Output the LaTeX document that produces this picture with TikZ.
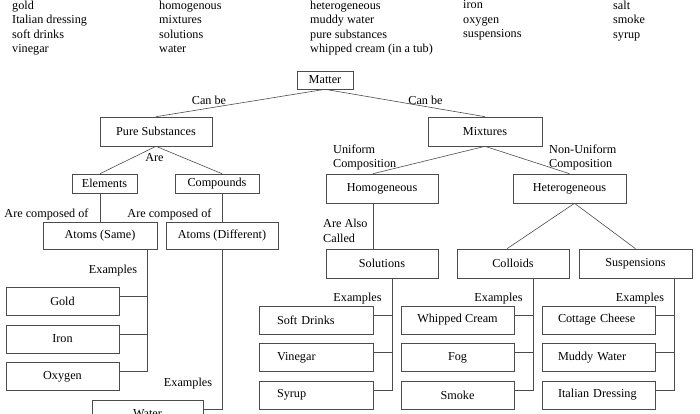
\documentclass[tikz,border=0pt]{standalone}
\usepackage{fontspec}
\setmainfont{Liberation Serif}
\usetikzlibrary{positioning}
\begin{document}
\begin{tikzpicture}[x=1pt,y=-1pt,
  font=\fontsize{12.2}{14.5}\selectfont,
  % concept boxes: plain rectangles, text centred
  box/.style={draw=black!70, line width=0.6pt, inner sep=0pt, align=center,
              minimum width=112, minimum height=29},
  exbox/.style={box, minimum width=113, minimum height=28},
  % example boxes whose text sits to the left
  solbox/.style={exbox, text width=78, inner xsep=18pt, align=left},
  suspbox/.style={exbox, text width=81, inner xsep=16pt, align=left},
  % link words and the word bank
  lbl/.style={inner sep=0pt, anchor=base},
  note/.style={inner sep=0pt, anchor=north west, align=left},
  link/.style={draw=black!70, line width=0.6pt},
  ]
  \useasboundingbox (0,0) rectangle (700,414);
  % ---- word bank ------------------------------------------------------------
  \node[note] (bank1) at (12,0.4)  {gold\\Italian dressing\\soft drinks\\vinegar};
  \node[note] (bank2) at (159,0.4) {homogenous\\mixtures\\solutions\\water};
  \node[note] (bank3) at (310,0.4) {heterogeneous\\muddy water\\pure substances\\whipped cream (in a tub)};
  \node[note] (bank4) at (463,0.4) {iron\\oxygen\\suspensions};
  \node[note] (bank5) at (613,0.4) {salt\\smoke\\syrup};
  % ---- concept boxes --------------------------------------------------------
  \node[box, minimum width=56, minimum height=18] (matter) at (325,80) {Matter};
  \node[box] (pure) at (156,131.5) {Pure Substances};
  \node[box, minimum width=114] (mix) at (485,131.5) {Mixtures};
  \node[box, minimum width=65, minimum height=19] (elem) at (104.5,183.5) {Elements};
  \node[box, minimum width=84, minimum height=19] (comp) at (217,183.5) {Compounds};
  \node[box, minimum width=114, minimum height=27] (same) at (100,235.5) {Atoms (Same)};
  \node[box, minimum height=27] (diff) at (222,235.5) {Atoms (Different)};
  \node[box] (homo) at (382,188.5) {Homogeneous};
  \node[box, minimum width=113] (hetero) at (569.5,188.5) {Heterogeneous};
  \node[box] (sol)  at (382,263.5) {Solutions};
  \node[box] (coll) at (513,263.5) {Colloids};
  \node[box, minimum width=113] (susp) at (635.5,263.5) {Suspensions};
  % ---- examples -------------------------------------------------------------
  \node[exbox] (gold)  at (62.5,301)   {Gold};
  \node[exbox] (iron)  at (62.5,339)   {Iron};
  \node[exbox] (oxy)   at (62.5,376.5) {Oxygen};
  \node[exbox, minimum width=111] (water) at (147.5,414) {Water};
  \node[solbox] (soft)  at (316,320)   {Soft Drinks};
  \node[solbox] (vine)  at (316,357.5) {Vinegar};
  \node[solbox] (syrup) at (316,395)   {Syrup};
  \node[exbox] (whip)  at (457.5,320)   {Whipped Cream};
  \node[exbox] (fog)   at (457.5,357.5) {Fog};
  \node[exbox] (smoke) at (457.5,395)   {Smoke};
  \node[suspbox] (cottage) at (598.5,320)   {Cottage Cheese};
  \node[suspbox] (muddy)   at (598.5,357.5) {Muddy Water};
  \node[suspbox] (italian) at (598.5,395)   {Italian Dressing};
  % ---- links between concepts -----------------------------------------------
  \draw[link] (matter.south) -- (pure.north);
  \draw[link] (matter.south) -- (mix.north);
  \draw[link] (pure.south) -- (same.north |- elem.north);
  \draw[link] (pure.south) -- (diff.north |- comp.north);
  \draw[link] (same.north |- elem.south) -- (same.north);
  \draw[link] (diff.north |- comp.south) -- (diff.north);
  \draw[link] (mix.south) -- ([xshift=-9pt]homo.north);
  \draw[link] (mix.south) -- (hetero.north);
  \draw[link] ([xshift=-9pt]homo.south) -- ([xshift=-9pt]sol.north);
  \draw[link] ([xshift=5pt]hetero.south) -- ([xshift=-6pt]coll.north);
  \draw[link] ([xshift=5pt]hetero.south) -- (susp.north);
  % ---- example branches (each runs up its trunk) ----------------------------
  \draw[link] ([yshift=5pt]gold.east) -| ([xshift=-10pt]same.south east);
  \draw[link] ([yshift=5pt]iron.east) -| ([xshift=-10pt]same.south east);
  \draw[link] ([yshift=5pt]oxy.east)  -| ([xshift=-10pt]same.south east);
  \draw[link] ([yshift=5pt]water.east) -| (diff.south);
  \draw[link] ([yshift=5pt]soft.east)  -| ([xshift=10pt]sol.south);
  \draw[link] ([yshift=5pt]vine.east)  -| ([xshift=10pt]sol.south);
  \draw[link] ([yshift=5pt]syrup.east) -| ([xshift=10pt]sol.south);
  \draw[link] ([yshift=5pt]whip.east)  -| ([xshift=20pt]coll.south);
  \draw[link] ([yshift=5pt]fog.east)   -| ([xshift=20pt]coll.south);
  \draw[link] ([yshift=5pt]smoke.east) -| ([xshift=20pt]coll.south);
  \draw[link] ([yshift=5pt]cottage.east) -| ([xshift=-18pt]susp.south east);
  \draw[link] ([yshift=5pt]muddy.east)   -| ([xshift=-18pt]susp.south east);
  \draw[link] ([yshift=5pt]italian.east) -| ([xshift=-18pt]susp.south east);
  % ---- linking words --------------------------------------------------------
  \node[lbl] (canbe1) at (209,105)   {Can be};
  \node[lbl] (canbe2) at (425.5,105) {Can be};
  \node[lbl] (are)    at (154.5,161.3) {Are};
  \node[lbl] (compof1) at (46.5,217.5)  {Are composed of};
  \node[lbl] (compof2) at (169.5,217.5) {Are composed of};
  \node[lbl] (ex1) at (113,273.5) {Examples};
  \node[lbl] (ex2) at (188,386)   {Examples};
  \node[lbl] (ex3) at (357.5,301.3) {Examples};
  \node[lbl] (ex4) at (498.5,301.3) {Examples};
  \node[lbl] (ex5) at (640,301.3)   {Examples};
  \node[note] (uni)    at (333,144.3) {Uniform\\Composition};
  \node[note] (nonuni) at (549,144.3) {Non-Uniform\\Composition};
  \node[note] (also)   at (323,219)   {Are Also\\Called};
\end{tikzpicture}
\end{document}
